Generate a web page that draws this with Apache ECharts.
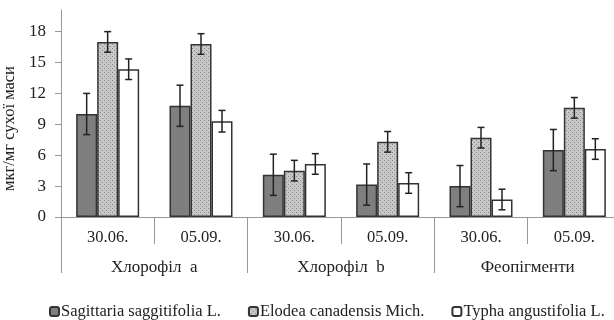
<!DOCTYPE html>
<html><head><meta charset="utf-8">
<script src="https://cdn.jsdelivr.net/npm/echarts@6/dist/echarts.min.js"></script>
<style>html,body{margin:0;padding:0;background:#fff}#c{width:614px;height:320px}</style>
</head><body><div id="c"></div>
<script>
var categories = ['30.06.','05.09.','30.06.','05.09.','30.06.','05.09.'];
var groups = ['Хлорофіл  a','Хлорофіл  b','Феопігменти'];
var seriesNames = ['Sagittaria saggitifolia L.','Elodea canadensis Mich.','Typha angustifolia L.'];
var sagittaria = [10.0, 10.8, 4.1, 3.15, 3.0, 6.5];
var sagittariaErr = [2.0, 2.0, 2.0, 2.0, 2.0, 2.0];
var elodea = [17.0, 16.8, 4.5, 7.3, 7.7, 10.6];
var elodeaErr = [1.0, 1.0, 1.0, 1.0, 1.0, 1.0];
var typha = [14.35, 9.3, 5.15, 3.3, 1.7, 6.6];
var typhaErr = [1.0, 1.05, 1.0, 1.0, 1.0, 1.0];
var yTicks = [0, 3, 6, 9, 12, 15, 18];

var pc = document.createElement('canvas');
pc.width = 4; pc.height = 4;
var g = pc.getContext('2d');
g.fillStyle = '#c8c8c8'; g.fillRect(0,0,4,4);
g.fillStyle = '#888888'; g.fillRect(0,0,1,1); g.fillRect(2,2,1,1);

var FONT = '"Liberation Serif", "Times New Roman", serif';
var vals = [sagittaria, elodea, typha];
var errs = [sagittariaErr, elodeaErr, typhaErr];
var fills = ['#7f7f7f', {image: pc, repeat: 'repeat'}, '#ffffff'];
var BARFRAC = 0.225;

var series = [];
for (var s = 0; s < 3; s++) {
  series.push({
    name: seriesNames[s], type: 'bar', data: vals[s], barWidth: (BARFRAC*100)+'%', barGap: '0%',
    itemStyle: {color: fills[s], borderColor: '#333', borderWidth: 1.5}
  });
}
for (var s2 = 0; s2 < 3; s2++) {
  var ed = [];
  for (var i = 0; i < categories.length; i++) ed.push([i, vals[s2][i], errs[s2][i], s2]);
  series.push({
    type: 'custom', data: ed, z: 10, silent: true,
    renderItem: function (params, api) {
      var ci = api.value(0), v = api.value(1), e = api.value(2), si = api.value(3);
      var cx = api.coord([ci, 0])[0];
      var bw = api.size([1, 0])[0] * BARFRAC;
      var x = cx + (si - 1) * bw;
      var yt = api.coord([ci, v + e])[1], yb = api.coord([ci, v - e])[1];
      var st = {stroke: '#222', lineWidth: 1.5};
      return {type: 'group', children: [
        {type: 'line', shape: {x1: x, y1: yt, x2: x, y2: yb}, style: st},
        {type: 'line', shape: {x1: x-3.5, y1: yt, x2: x+3.5, y2: yt}, style: st},
        {type: 'line', shape: {x1: x-3.5, y1: yb, x2: x+3.5, y2: yb}, style: st}
      ]};
    }
  });
}

var chart = echarts.init(document.getElementById('c'));
chart.setOption({
  animation: false,
  grid: {left: 61, right: -7, top: 10, bottom: 103, containLabel: false, outerBoundsMode: 'none'},
  legend: {
    data: seriesNames, left: 44, top: 298, itemWidth: 9, itemHeight: 9, itemGap: 27,
    textStyle: {fontFamily: FONT, fontSize: 16.5, color: '#222', padding: [0,0,0,-3]}
  },
  xAxis: [
    {type: 'category', data: categories, position: 'bottom',
     axisLine: {show: true, lineStyle: {color: '#999', width: 1}},
     axisTick: {show: true, length: 27, lineStyle: {color: '#999'}},
     axisLabel: {fontFamily: FONT, fontSize: 16.5, color: '#222', margin: 12}},
    {type: 'category', data: groups, position: 'bottom',
     axisLine: {show: false},
     axisTick: {show: true, length: 56, lineStyle: {color: '#999'}},
     axisLabel: {fontFamily: FONT, fontSize: 17, color: '#222', margin: 42}}
  ],
  yAxis: {
    type: 'value', min: 0, max: 20.1, interval: 3,
    name: 'мкг/мг сухої маси', nameLocation: 'middle', nameGap: 34, nameRotate: 90,
    nameTextStyle: {fontFamily: FONT, fontSize: 16.5, color: '#222', padding: [0, 30, 0, 0]},
    axisLine: {show: true, lineStyle: {color: '#999'}},
    axisTick: {show: true, length: 6, customValues: yTicks, lineStyle: {color: '#999'}},
    axisLabel: {fontFamily: FONT, fontSize: 17, color: '#222', margin: 15, customValues: yTicks},
    splitLine: {show: false}
  },
  series: series
});
</script></body></html>
